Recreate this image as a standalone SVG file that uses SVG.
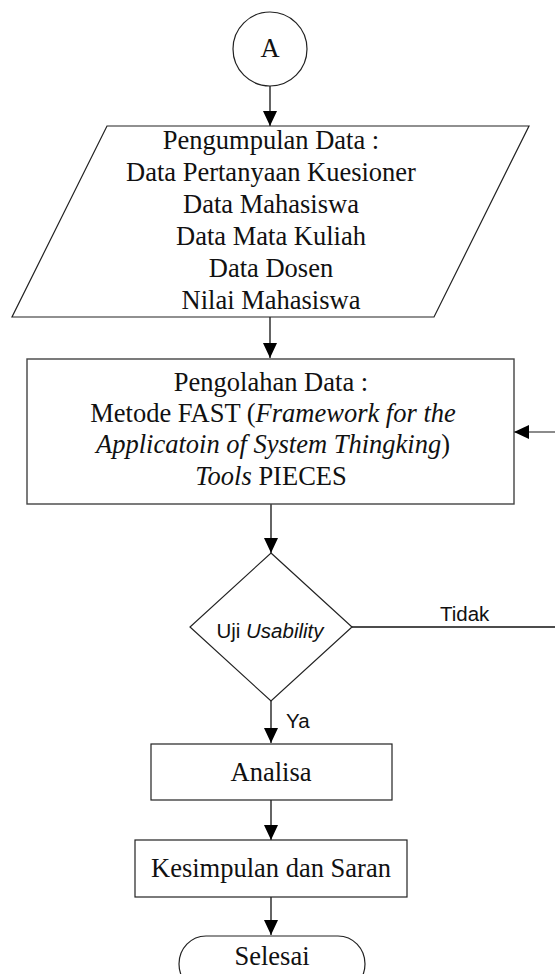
<svg xmlns="http://www.w3.org/2000/svg" width="555" height="974" viewBox="0 0 555 974">
<style>
.shape{fill:#fff;stroke:#222;stroke-width:1.2}
.box{fill:#fff;stroke:#444;stroke-width:1.4}
.t{font-family:"Liberation Serif","Times New Roman",serif;font-size:26.5px;fill:#111;text-anchor:middle}
.s{font-family:"Liberation Sans",Arial,sans-serif;font-size:20.5px;fill:#111}
.i{font-style:italic}
.c{fill:none;stroke:#111;stroke-width:1.3}
</style>
<defs>
<marker id="ah" markerUnits="userSpaceOnUse" markerWidth="15" markerHeight="14" refX="15" refY="7" orient="auto">
<path d="M0,0 L15,7 L0,14 z" fill="#000"/>
</marker>
</defs>
<rect width="555" height="974" fill="#fff"/>
<g id="connectors">
<path class="c" d="M270,86 V126" marker-end="url(#ah)"/>
<path class="c" d="M270,317 V358" marker-end="url(#ah)"/>
<path class="c" d="M271,504 V553" marker-end="url(#ah)"/>
<path class="c" d="M271,701 V743" marker-end="url(#ah)"/>
<path class="c" d="M271,800 V840" marker-end="url(#ah)"/>
<path class="c" d="M271,897 V935" marker-end="url(#ah)"/>
<path class="c" d="M352,627 H560"/>
<path class="c" style="stroke:#666" d="M560,627 V432 H514" marker-end="url(#ah)"/>
<text class="s" x="440" y="621">Tidak</text>
<text class="s" x="286" y="728">Ya</text>
</g>
<g id="start">
<circle class="shape" cx="270" cy="49" r="37"/>
<text class="t" x="270" y="57">A</text>
</g>
<g id="pengumpulan">
<polygon class="shape" points="107,126 529,126 434,317 12,317"/>
<text class="t" x="271" y="149">Pengumpulan Data :</text>
<text class="t" x="271" y="181">Data Pertanyaan Kuesioner</text>
<text class="t" x="271" y="213">Data Mahasiswa</text>
<text class="t" x="271" y="245">Data Mata Kuliah</text>
<text class="t" x="271" y="277">Data Dosen</text>
<text class="t" x="271" y="309">Nilai Mahasiswa</text>
</g>
<g id="pengolahan">
<rect class="box" x="27" y="359" width="487" height="145"/>
<text class="t" x="271" y="391">Pengolahan Data :</text>
<text class="t" x="273" y="422">Metode FAST (<tspan class="i">Framework for the</tspan></text>
<text class="t" x="273" y="453"><tspan class="i">Applicatoin of System Thingking</tspan>)</text>
<text class="t" x="271" y="485"><tspan class="i">Tools</tspan> PIECES</text>
</g>
<g id="uji">
<polygon class="shape" points="271,553 352,627 271,701 190,627"/>
<text class="s" x="270" y="638" text-anchor="middle">Uji <tspan class="i">Usability</tspan></text>
</g>
<g id="analisa">
<rect class="shape" x="151" y="744" width="241" height="56"/>
<text class="t" x="271" y="781">Analisa</text>
</g>
<g id="kesimpulan">
<rect class="shape" x="135" y="840" width="272" height="57"/>
<text class="t" x="271" y="877">Kesimpulan dan Saran</text>
</g>
<g id="selesai">
<rect class="shape" x="179" y="936" width="186" height="56" rx="27" ry="28"/>
<text class="t" x="272" y="965">Selesai</text>
</g>
</svg>
